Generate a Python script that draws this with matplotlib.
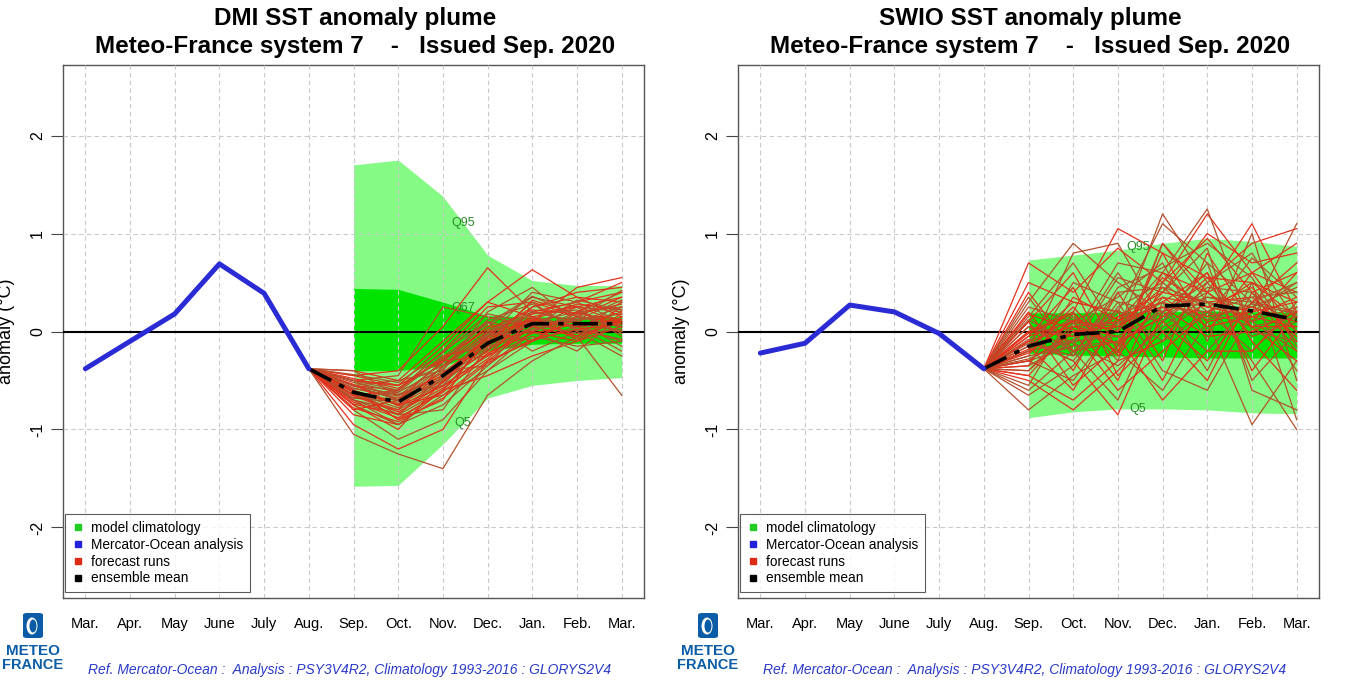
"""
Two SST anomaly plumes (DMI and SWIO), Meteo-France system 7, issued Sep. 2020.
Values read by eye from the published figure.
"""

import matplotlib
matplotlib.use("Agg")
import matplotlib.pyplot as plt
from matplotlib.lines import Line2D
from matplotlib.patches import FancyBboxPatch, Ellipse
import numpy as np

plt.rcParams["font.family"] = ["Liberation Sans", "DejaVu Sans"]

# ── shared axis data ──
months = ["Mar.", "Apr.", "May", "June", "July", "Aug.", "Sep.",
          "Oct.", "Nov.", "Dec.", "Jan.", "Feb.", "Mar."]
yticks = [-2, -1, 0, 1, 2]
quantile_names = ["Q95", "Q67", "Q5"]

# ── DMI ──
dmi_analysis = [-0.38, -0.10, 0.18, 0.69, 0.39, -0.38]          # Mar..Aug
dmi_q95 = [1.70, 1.75, 1.38, 0.78, 0.52, 0.47, 0.47]             # Sep..Mar
dmi_q67 = [0.44, 0.43, 0.30, 0.16, 0.15, 0.15, 0.15]
dmi_q33 = [-0.40, -0.40, -0.35, -0.20, -0.13, -0.12, -0.12]
dmi_q5 = [-1.58, -1.57, -1.15, -0.68, -0.55, -0.50, -0.47]
dmi_mean = [-0.62, -0.72, -0.45, -0.12, 0.08, 0.08, 0.08]
dmi_runs = [
    [-0.55, -0.60, -0.20, 0.25, 0.30, 0.15, 0.35],
    [-0.70, -0.85, -0.60, -0.10, 0.10, 0.20, 0.05],
    [-0.45, -0.40, 0.05, 0.65, 0.20, 0.30, 0.50],
    [-0.80, -1.10, -0.90, -0.40, -0.10, 0.05, -0.20],
    [-0.60, -0.75, -0.50, -0.20, 0.15, -0.05, 0.10],
    [-0.50, -0.55, -0.35, 0.05, 0.35, 0.25, 0.20],
    [-0.95, -1.20, -1.00, -0.30, 0.05, 0.10, 0.00],
    [-0.65, -0.70, -0.30, 0.10, -0.20, 0.00, 0.30],
    [-0.40, -0.50, -0.10, 0.30, 0.63, 0.35, 0.15],
    [-0.75, -0.95, -0.75, -0.35, 0.00, 0.20, 0.25],
    [-0.55, -0.65, -0.45, -0.05, 0.25, 0.40, 0.45],
    [-0.70, -0.80, -0.55, -0.25, -0.05, -0.15, -0.10],
    [-0.60, -0.90, -0.70, 0.00, 0.10, 0.05, 0.20],
    [-0.50, -0.45, 0.25, 0.15, 0.05, 0.25, -0.05],
    [-0.85, -0.95, -0.60, -0.45, -0.25, -0.10, 0.05],
    [-0.55, -0.70, -0.40, 0.20, 0.45, 0.10, 0.00],
    [-0.65, -0.60, -0.25, -0.15, 0.20, 0.30, 0.40],
    [-1.05, -1.25, -1.40, -0.65, -0.30, -0.05, -0.65],
    [-0.45, -0.55, -0.30, 0.05, 0.10, 0.45, 0.55],
    [-0.70, -0.85, -0.45, -0.10, 0.30, 0.00, -0.25],
    [-0.60, -0.75, -0.65, -0.30, -0.10, 0.15, 0.10],
    [-0.50, -0.60, -0.20, 0.10, 0.00, -0.20, 0.15],
    [-0.75, -1.00, -0.50, -0.20, 0.25, 0.35, 0.30],
    [-0.55, -0.50, -0.40, -0.35, 0.15, 0.05, -0.10],
    [-0.65, -0.80, -0.35, 0.00, -0.10, 0.20, 0.40],
    [-0.40, -0.65, -0.55, -0.05, 0.40, 0.30, 0.10],
    [-0.80, -0.70, -0.30, -0.25, 0.05, -0.05, 0.25],
    [-0.60, -0.85, -0.80, -0.15, 0.20, 0.10, -0.15],
    [-0.50, -0.55, -0.15, 0.30, 0.15, 0.25, 0.35],
    [-0.70, -0.95, -0.65, -0.40, 0.00, 0.15, 0.05],
    [-0.58, -0.68, -0.42, -0.08, 0.12, 0.05, 0.10],
    [-0.62, -0.78, -0.52, -0.18, 0.02, 0.12, 0.18],
    [-0.48, -0.58, -0.28, 0.02, 0.22, 0.18, 0.28],
    [-0.68, -0.72, -0.48, -0.12, 0.08, -0.02, 0.02],
    [-0.72, -0.88, -0.62, -0.22, -0.02, 0.08, 0.12],
    [-0.52, -0.62, -0.38, -0.02, 0.18, 0.22, -0.02],
    [-0.66, -0.82, -0.58, -0.28, 0.12, 0.28, 0.22],
    [-0.58, -0.66, -0.32, 0.12, 0.28, 0.02, -0.08],
    [-0.78, -0.92, -0.68, -0.32, -0.08, 0.02, 0.08],
    [-0.44, -0.52, -0.22, 0.18, 0.08, 0.12, 0.32],
    [-0.62, -0.74, -0.44, -0.14, 0.32, 0.18, 0.12],
    [-0.56, -0.64, -0.48, -0.16, 0.04, 0.32, 0.22],
    [-0.74, -0.84, -0.52, -0.06, 0.14, -0.08, 0.18],
    [-0.64, -0.70, -0.36, -0.04, 0.06, 0.14, 0.42],
    [-0.54, -0.76, -0.56, -0.24, 0.18, 0.26, 0.08],
    [-0.68, -0.62, -0.26, 0.08, 0.36, 0.16, 0.04],
    [-0.60, -0.90, -0.60, -0.10, 0.00, -0.10, 0.15],
    [-0.50, -0.70, -0.50, 0.00, 0.20, 0.10, 0.25],
]

# ── SWIO ──
swio_analysis = [-0.22, -0.12, 0.27, 0.20, -0.02, -0.38]
swio_q95 = [0.73, 0.78, 0.83, 0.90, 0.95, 0.92, 0.87]
swio_q67 = [0.19, 0.19, 0.20, 0.20, 0.21, 0.20, 0.20]
swio_q33 = [-0.22, -0.24, -0.25, -0.26, -0.27, -0.27, -0.27]
swio_q5 = [-0.88, -0.82, -0.79, -0.79, -0.80, -0.83, -0.84]
swio_mean = [-0.15, -0.03, 0.00, 0.26, 0.28, 0.21, 0.12]
swio_runs = [
    [0.70, 0.40, 0.85, 0.50, 1.20, 0.60, 0.90],
    [-0.30, -0.50, 0.10, 0.60, 0.20, -0.20, 0.30],
    [0.10, 0.60, -0.20, 0.90, 0.40, 1.10, 0.20],
    [-0.60, -0.20, -0.70, 0.30, -0.40, 0.50, -0.90],
    [0.20, -0.40, 0.40, -0.30, 0.80, 0.10, 0.60],
    [-0.10, 0.30, 0.20, 1.10, 0.70, -0.50, 0.00],
    [-0.45, -0.70, -0.30, -0.10, 0.50, 0.90, 1.05],
    [0.30, 0.90, 0.50, 0.20, -0.20, 0.30, -0.40],
    [-0.20, 0.10, -0.50, 0.50, 0.95, 0.40, -0.20],
    [-0.35, -0.10, 0.60, 0.00, 0.30, -0.30, -1.00],
    [0.00, 0.20, 1.05, 0.80, 0.00, 0.60, 0.40],
    [-0.80, -0.45, -0.20, -0.60, 0.10, -0.95, -0.30],
    [0.40, -0.20, -0.10, 0.40, 1.00, 0.70, 0.80],
    [-0.25, 0.50, 0.30, -0.40, -0.60, 0.20, 0.50],
    [-0.10, -0.30, -0.85, 0.20, 0.60, -0.10, -0.60],
    [0.15, 0.70, 0.00, 1.20, 0.50, 0.80, 0.10],
    [-0.50, -0.80, -0.40, 0.10, -0.30, 0.30, 0.70],
    [0.05, -0.05, 0.70, 0.60, 1.25, 0.00, -0.10],
    [-0.40, 0.00, -0.60, -0.20, 0.20, 0.50, 0.30],
    [0.25, 0.10, 0.35, 0.70, -0.10, 1.00, -0.50],
    [-0.15, -0.60, 0.15, 0.30, 0.60, -0.40, 0.20],
    [-0.55, 0.20, -0.30, 0.90, 0.30, 0.20, 1.10],
    [0.50, 0.30, 0.20, -0.50, 0.40, 0.60, 0.00],
    [-0.30, -0.15, 0.55, 0.40, 0.85, -0.60, -0.80],
    [-0.05, 0.45, -0.45, 0.00, -0.50, 0.40, 0.60],
    [-0.65, -0.35, 0.25, 0.50, 0.15, 0.75, 0.35],
    [0.10, -0.55, -0.15, 0.80, 0.55, 0.05, -0.30],
    [-0.20, 0.80, 0.90, 0.10, 0.70, 0.30, 0.50],
    [-0.45, 0.05, -0.05, -0.70, -0.20, -0.20, 0.25],
    [0.35, -0.25, 0.45, 0.65, 0.90, 0.55, -0.15],
    [-0.10, 0.05, 0.10, 0.35, 0.25, 0.15, 0.05],
    [-0.20, -0.10, -0.05, 0.20, 0.35, 0.30, 0.20],
    [-0.05, 0.10, 0.05, 0.30, 0.15, 0.25, 0.10],
    [-0.25, -0.15, -0.10, 0.15, 0.40, 0.10, 0.25],
    [0.00, -0.05, 0.15, 0.40, 0.30, 0.35, -0.05],
    [-0.15, 0.15, -0.15, 0.25, 0.20, 0.05, 0.15],
    [-0.30, 0.00, 0.05, 0.45, 0.10, 0.20, 0.30],
    [0.05, -0.20, 0.20, 0.10, 0.45, 0.40, 0.00],
    [-0.18, 0.25, -0.25, 0.35, 0.05, 0.15, 0.35],
    [-0.08, -0.30, 0.30, 0.20, 0.50, -0.05, 0.10],
    [-0.22, 0.12, 0.00, 0.55, 0.25, 0.45, -0.10],
    [0.12, -0.12, -0.35, 0.05, 0.35, 0.25, 0.45],
    [-0.35, 0.35, 0.12, 0.25, -0.05, 0.00, 0.20],
    [-0.12, -0.25, 0.40, 0.45, 0.30, 0.10, -0.20],
    [0.18, 0.02, -0.12, 0.15, 0.55, 0.50, 0.15],
    [-0.28, -0.08, 0.22, -0.10, 0.20, 0.35, 0.40],
    [-0.02, 0.18, -0.22, 0.60, 0.40, 0.05, 0.05],
    [-0.40, 0.08, 0.08, 0.30, 0.12, 0.28, 0.18],
]

LIGHT_GREEN = "#85fa85"
DARK_GREEN = "#00e400"
Q_COLOR = "#2a8a2a"
BLUE = "#2b2bd6"
RUN_COLORS = ["#e2321c", "#b4512c"]
LOGO_BLUE = "#0a5ca6"
FOOT_BLUE = "#2a3ac8"


def draw_panel(ax, analysis, q95, q67, q33, q5, mean, runs):
    x_an = np.arange(len(analysis))
    x_fc = np.arange(len(analysis) - 1, len(months))
    x_q = x_fc[1:]

    ax.fill_between(x_q, q5, q95, color=LIGHT_GREEN, lw=0, zorder=1)
    ax.fill_between(x_q, q33, q67, color=DARK_GREEN, lw=0, zorder=2)

    # quantile labels sit on the band edges, a bit after Nov.
    xl = 8.45
    for name, q in zip(quantile_names, [q95, q67, q5]):
        ax.text(xl, np.interp(xl, x_q, q), name, color=Q_COLOR, fontsize=9,
                ha="center", va="center", zorder=3)

    ax.axhline(0, color="black", lw=1.5, zorder=4)

    for i, run in enumerate(runs):
        ax.plot(x_fc, [analysis[-1]] + run, color=RUN_COLORS[i % 2],
                lw=0.9, zorder=5)

    ax.plot(x_fc, [analysis[-1]] + mean, color="black", lw=2.6,
            dashes=[7, 2.5, 1.5, 2.5], zorder=6)
    ax.plot(x_an, analysis, color=BLUE, lw=3.6, solid_capstyle="round",
            zorder=7)

    ax.set_xlim(-0.5, 12.5)
    ax.set_ylim(-2.72, 2.72)
    ax.set_xticks(range(len(months)))
    ax.set_xticklabels(months, fontsize=10.5)
    ax.set_yticks(yticks)
    ax.set_yticklabels([str(v) for v in yticks], rotation=90, va="center",
                       fontsize=11.5)
    ax.tick_params(axis="x", length=0, pad=14)
    ax.tick_params(axis="y", length=9, pad=4, color="#444444")

    ax.grid(True, color="#c9c9c9", lw=0.8, dashes=[4, 3])
    ax.set_axisbelow(False)
    for gl in ax.get_xgridlines() + ax.get_ygridlines():
        gl.set_zorder(0.5)
    for sp in ax.spines.values():
        sp.set_color("#555555")
        sp.set_linewidth(1.0)

    # the reference crops this label at the left edge of the left panel
    ax.set_ylabel("anomaly (°C)", fontsize=13)
    ax.yaxis.set_label_coords(-0.082, 0.5)

    handles = [
        Line2D([], [], marker="s", ls="none", color="#22cc22", ms=4.5),
        Line2D([], [], marker="s", ls="none", color="#2222dd", ms=4.5),
        Line2D([], [], marker="s", ls="none", color="#dd2a14", ms=4.5),
        Line2D([], [], marker="s", ls="none", color="black", ms=4.5),
    ]
    labels = ["model climatology", "Mercator-Ocean analysis",
              "forecast runs", "ensemble mean"]
    leg = ax.legend(handles, labels, loc="lower left",
                    bbox_to_anchor=(0.004, 0.011), fontsize=9.8,
                    frameon=True, fancybox=False, handlelength=0.8,
                    handletextpad=0.6, labelspacing=0.2, borderpad=0.5,
                    borderaxespad=0)
    leg.get_frame().set_edgecolor("#333333")
    leg.get_frame().set_linewidth(0.8)
    leg.set_zorder(10)


def draw_logo(fig, cx):
    # small blue emblem above the METEO FRANCE wordmark
    W, H = 1350.0, 680.0
    box = FancyBboxPatch(((cx - 10) / W, 1 - 638 / H), 20 / W, 25 / H,
                         boxstyle="round,pad=0,rounding_size=0.003",
                         transform=fig.transFigure, fc=LOGO_BLUE, ec="none")
    fig.add_artist(box)
    fig.add_artist(Ellipse(((cx - 1) / W, 1 - 626 / H), 11 / W, 17 / H,
                           transform=fig.transFigure, fc="white", ec="none"))
    fig.add_artist(Ellipse((cx / W, 1 - 626 / H), 7 / W, 13 / H,
                           transform=fig.transFigure, fc=LOGO_BLUE, ec="none"))
    fig.text(cx / W, 1 - 651 / H, "METEO", ha="center", va="center",
             fontsize=11, fontweight="heavy", color=LOGO_BLUE)
    fig.text(cx / W, 1 - 665 / H, "FRANCE", ha="center", va="center",
             fontsize=10.5, fontweight="heavy", color=LOGO_BLUE)


def main():
    W, H = 1350.0, 680.0
    fig = plt.figure(figsize=(13.5, 6.8), dpi=100)

    panels = [
        ("DMI SST anomaly plume", 63, dmi_analysis, dmi_q95, dmi_q67,
         dmi_q33, dmi_q5, dmi_mean, dmi_runs),
        ("SWIO SST anomaly plume", 738, swio_analysis, swio_q95, swio_q67,
         swio_q33, swio_q5, swio_mean, swio_runs),
    ]
    for title, left, an, q95, q67, q33, q5, mean, runs in panels:
        ax = fig.add_axes([left / W, 1 - 598 / H, 581 / W, 533 / H])
        draw_panel(ax, an, q95, q67, q33, q5, mean, runs)

        cx = (left + 292) / W
        fig.text(cx, 1 - 18 / H, title, ha="center", va="center",
                 fontsize=17.5, fontweight="bold")
        fig.text(cx, 1 - 47 / H,
                 "Meteo-France system 7    -   Issued Sep. 2020",
                 ha="center", va="center", fontsize=17.5, fontweight="bold")
        fig.text((left + 287) / W, 1 - 670 / H,
                 "Ref. Mercator-Ocean :  Analysis : PSY3V4R2, "
                 "Climatology 1993-2016 : GLORYS2V4",
                 ha="center", va="center", fontsize=10, style="italic",
                 color=FOOT_BLUE)
        draw_logo(fig, left - 30)

    fig.savefig("out.png", dpi=100)


if __name__ == "__main__":
    main()
